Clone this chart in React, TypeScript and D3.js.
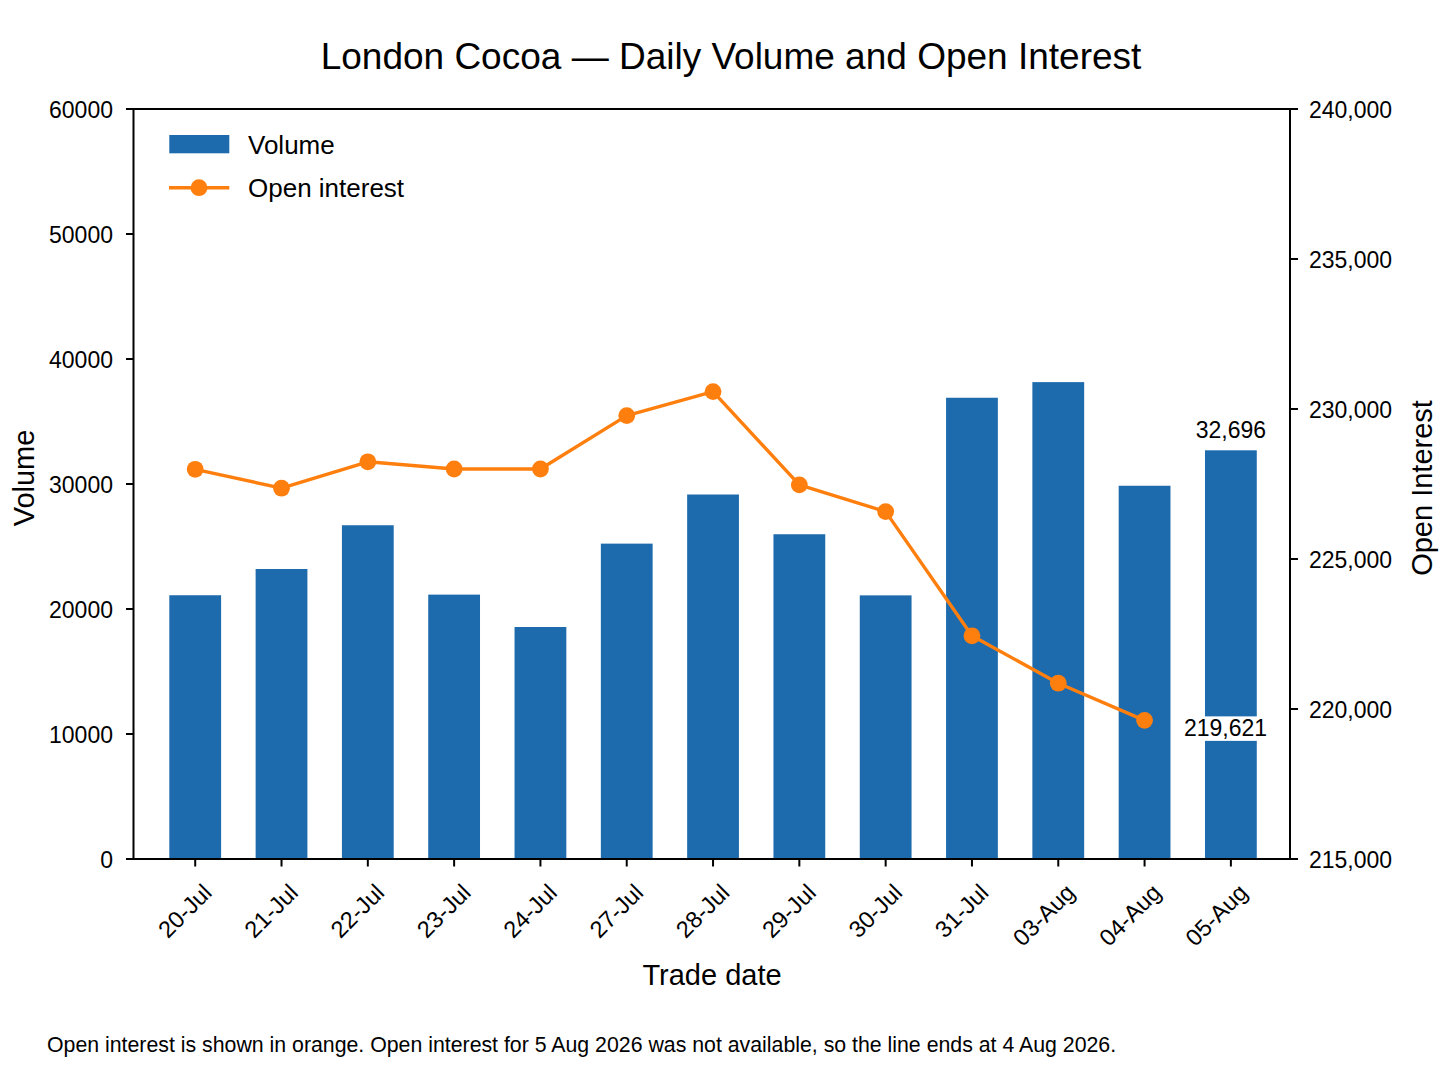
import React from 'react';
import * as d3 from 'd3';

const dates = ['20-Jul', '21-Jul', '22-Jul', '23-Jul', '24-Jul', '27-Jul', '28-Jul', '29-Jul', '30-Jul', '31-Jul', '03-Aug', '04-Aug', '05-Aug'];
const volume = [21100, 23200, 26700, 21150, 18560, 25230, 29160, 25980, 21090, 36900, 38150, 29860, 32696];
const openInterest: (number | null)[] = [227990, 227360, 228240, 228000, 228000, 229780, 230580, 227470, 226580, 222440, 220860, 219621, null];
const volumeTicks = [0, 10000, 20000, 30000, 40000, 50000, 60000];
const oiTicks = [215000, 220000, 225000, 230000, 235000, 240000];

const W = 1448;
const H = 1086;
const M = { left: 133.5, right: 1290, top: 109, bottom: 859 };
const FONT = '"Liberation Sans", Arial, Helvetica, sans-serif';
const BLUE = '#1d6aad';
const ORANGE = '#ff7f0e';

export default function App() {
  const x = d3.scaleLinear().domain([-0.715, 12.685]).range([M.left, M.right]);
  const yV = d3.scaleLinear().domain([0, 60000]).range([M.bottom, M.top]);
  const yO = d3.scaleLinear().domain([215000, 240000]).range([M.bottom, M.top]);
  const barW = x(0.6) - x(0);

  const oiPts = openInterest
    .map((v, i) => ({ v, i }))
    .filter((d) => d.v !== null) as { v: number; i: number }[];
  const line = d3
    .line<{ v: number; i: number }>()
    .x((d) => x(d.i))
    .y((d) => yO(d.v));

  const lastVolIdx = volume.length - 1;
  const lastOi = oiPts[oiPts.length - 1];
  const fmt = d3.format(',');

  const annX = x(lastOi.i) + 81;
  const annY = yO(lastOi.v) + 16;

  return (
    <svg
      width={W}
      height={H}
      viewBox={`0 0 ${W} ${H}`}
      style={{ position: 'absolute', left: 0, top: 0, background: '#fff' }}
      fontFamily={FONT}
    >
      <rect x={0} y={0} width={W} height={H} fill="#fff" />
      {/* title */}
      <text x={731} y={69} textAnchor="middle" fontSize={37} fill="#000">
        London Cocoa — Daily Volume and Open Interest
      </text>

      {/* bars */}
      {volume.map((v, i) => (
        <rect
          key={dates[i]}
          x={x(i) - barW / 2}
          y={yV(v)}
          width={barW}
          height={yV(0) - yV(v)}
          fill={BLUE}
        />
      ))}

      {/* open interest line */}
      <path d={line(oiPts) || ''} fill="none" stroke={ORANGE} strokeWidth={3.4} strokeLinejoin="round" />
      {oiPts.map((d) => (
        <circle key={d.i} cx={x(d.i)} cy={yO(d.v)} r={8.4} fill={ORANGE} />
      ))}

      {/* annotations */}
      <text x={x(lastVolIdx)} y={yV(volume[lastVolIdx]) - 12} textAnchor="middle" fontSize={23} fill="#000">
        {fmt(volume[lastVolIdx])}
      </text>
      <rect x={annX - 44} y={annY - 20} width={88} height={24.5} fill="#fff" />
      <text x={annX} y={annY} textAnchor="middle" fontSize={23} fill="#000">
        {fmt(lastOi.v)}
      </text>

      {/* spines */}
      <rect
        x={M.left}
        y={M.top}
        width={M.right - M.left}
        height={M.bottom - M.top}
        fill="none"
        stroke="#000"
        strokeWidth={2}
      />

      {/* left axis */}
      {volumeTicks.map((t) => (
        <g key={t}>
          <line x1={M.left - 7.5} x2={M.left} y1={yV(t)} y2={yV(t)} stroke="#000" strokeWidth={2} />
          <text x={M.left - 20.5} y={yV(t)} dy="0.38em" textAnchor="end" fontSize={23} fill="#000">
            {t}
          </text>
        </g>
      ))}

      {/* right axis */}
      {oiTicks.map((t) => (
        <g key={t}>
          <line x1={M.right} x2={M.right + 8} y1={yO(t)} y2={yO(t)} stroke="#000" strokeWidth={2} />
          <text x={M.right + 19} y={yO(t)} dy="0.38em" textAnchor="start" fontSize={23} fill="#000">
            {fmt(t)}
          </text>
        </g>
      ))}

      {/* x axis */}
      {dates.map((d, i) => (
        <g key={d}>
          <line x1={x(i)} x2={x(i)} y1={M.bottom} y2={M.bottom + 7.5} stroke="#000" strokeWidth={2} />
          <text
            transform={`translate(${x(i) + 18},${M.bottom + 35}) rotate(-45)`}
            textAnchor="end"
            fontSize={23.5}
            fill="#000"
          >
            {d}
          </text>
        </g>
      ))}

      {/* axis labels */}
      <text x={712} y={985} textAnchor="middle" fontSize={29} fill="#000">
        Trade date
      </text>
      <text transform={`translate(34,478) rotate(-90)`} textAnchor="middle" fontSize={29} fill="#000">
        Volume
      </text>
      <text transform={`translate(1432,488) rotate(-90)`} textAnchor="middle" fontSize={29} fill="#000">
        Open Interest
      </text>

      {/* legend */}
      <rect x={169.3} y={135} width={60} height={18.3} fill={BLUE} />
      <text x={248} y={154} fontSize={26} fill="#000">
        Volume
      </text>
      <line x1={169} x2={229.3} y1={187.7} y2={187.7} stroke={ORANGE} strokeWidth={3.4} />
      <circle cx={199} cy={187.7} r={8.4} fill={ORANGE} />
      <text x={248} y={197} fontSize={26} fill="#000">
        Open interest
      </text>

      {/* footnote */}
      <text x={47} y={1052} fontSize={21.3} fill="#000">
        Open interest is shown in orange. Open interest for 5 Aug 2026 was not available, so the line ends at 4 Aug 2026.
      </text>
    </svg>
  );
}
